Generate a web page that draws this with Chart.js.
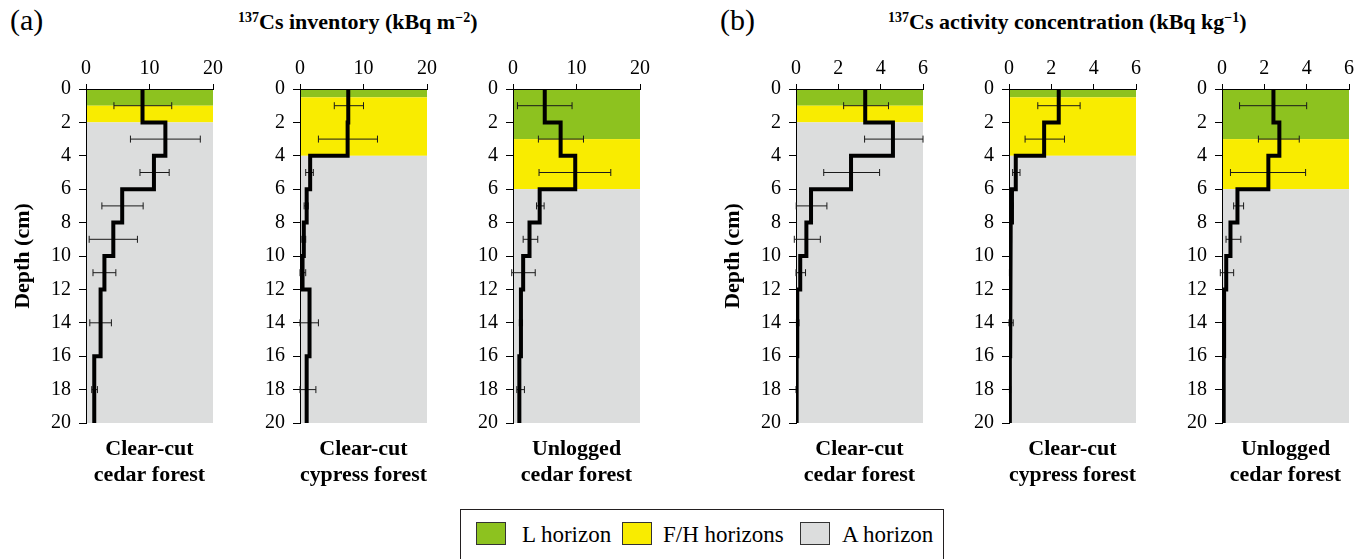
<!DOCTYPE html>
<html>
<head>
<meta charset="utf-8">
<script src="https://cdn.jsdelivr.net/npm/chart.js@4.4.1/dist/chart.umd.min.js"></script>
<style>
  body { margin: 0; background: #fff; width: 1368px; height: 559px; overflow: hidden; position: relative;
         font-family: 'Liberation Serif', 'Times New Roman', serif; color: #000; }
  canvas { position: absolute; top: 40px; }
  .txt { position: absolute; white-space: nowrap; line-height: 1; }
  .tag { font-size: 30px; top: 5px; }
  .group { font-size: 22px; font-weight: bold; top: 11px; }
  .group sup { font-size: 14px; vertical-align: 7px; line-height: 0; }
  #legendBox { position: absolute; left: 460px; top: 509px; width: 484px; height: 70px;
               border: 1.5px solid #231f20; box-sizing: border-box; }
  .swatch { position: absolute; top: 522px; width: 30px; height: 23px; border: 1.5px solid #333; box-sizing: border-box; }
  .legText { font-size: 23px; top: 523px; }
</style>
</head>
<body>
<div class="txt tag" style="left:10px">(a)</div>
<div class="txt group" style="left:238px"><sup>137</sup>Cs inventory (kBq m<sup>−2</sup>)</div>
<div class="txt tag" style="left:720px">(b)</div>
<div class="txt group" style="left:888px"><sup>137</sup>Cs activity concentration (kBq kg<sup>−1</sup>)</div>

<canvas id="panel0"></canvas>
<canvas id="panel1"></canvas>
<canvas id="panel2"></canvas>
<canvas id="panel3"></canvas>
<canvas id="panel4"></canvas>
<canvas id="panel5"></canvas>

<div id="legendBox"></div>

<script>
// depth intervals (cm) and their midpoints for the error bars
const depthTop    = [0, 2, 4, 6, 8, 10, 12, 16];
const depthBottom = [2, 4, 6, 8, 10, 12, 16, 20];
const depthMid    = [1, 3, 5, 7, 9, 11, 14, 18];

// (a) 137Cs inventory, kBq m-2
const invCutCedar     = [8.9, 12.5, 10.7, 5.7, 4.3, 2.9, 2.3, 1.3];
const invCutCedarLo   = [4.4, 7.0, 8.5, 2.5, 0.5, 1.1, 0.6, 0.9];
const invCutCedarHi   = [13.5, 18.0, 13.1, 9.0, 8.1, 4.7, 4.0, 1.8];

const invCutCypress   = [7.6, 7.5, 1.6, 1.05, 0.6, 0.4, 1.5, 1.05];
const invCutCypressLo = [5.4, 2.9, 0.9, 0.65, 0.3, 0.0, 0.0, 0.0];
const invCutCypressHi = [10.0, 12.2, 2.1, 1.3, 0.9, 0.9, 2.9, 2.5];

const invUnlogCedar   = [5.0, 7.5, 9.8, 4.2, 2.6, 1.6, 1.25, 1.0];
const invUnlogCedarLo = [0.7, 4.0, 4.1, 3.7, 1.6, -0.2, 1.0, 0.6];
const invUnlogCedarHi = [9.3, 11.1, 15.4, 4.9, 3.9, 3.5, 1.5, 1.8];

// (b) 137Cs activity concentration, kBq kg-1
const concCutCedar     = [3.27, 4.58, 2.6, 0.71, 0.49, 0.2, 0.06, 0.03];
const concCutCedarLo   = [2.25, 3.24, 1.31, 0.01, -0.08, 0.0, 0.02, 0.0];
const concCutCedarHi   = [4.37, 6.0, 3.95, 1.46, 1.15, 0.45, 0.14, 0.06];

const concCutCypress   = [2.35, 1.66, 0.32, 0.14, 0.08, 0.05, 0.05, 0.04];
const concCutCypressLo = [1.36, 0.76, 0.17, 0.08, 0.04, 0.02, 0.0, 0.02];
const concCutCypressHi = [3.36, 2.62, 0.52, 0.2, 0.12, 0.08, 0.2, 0.08];

const concUnlogCedar   = [2.43, 2.71, 2.19, 0.73, 0.4, 0.2, 0.1, 0.08];
const concUnlogCedarLo = [0.83, 1.72, 0.4, 0.55, 0.19, -0.08, 0.06, 0.05];
const concUnlogCedarHi = [4.0, 3.65, 3.95, 1.02, 0.89, 0.55, 0.14, 0.1];

// lower boundary (cm) of the L and F/H horizons, A horizon goes down to 20
const horizonCutCedar   = [1, 2];
const horizonCutCypress = [0.5, 4];
const horizonUnlogCedar = [3, 6];

const horizonLabels = ['L horizon', 'F/H horizons', 'A horizon'];
const horizonColors = ['#8dc21f', '#f9ec00', '#dcdddd'];

const siteCutCedar   = ['Clear-cut', 'cedar forest'];
const siteCutCypress = ['Clear-cut', 'cypress forest'];
const siteUnlogCedar = ['Unlogged', 'cedar forest'];

const invTicks  = { max: 20, step: 10 };
const concTicks = { max: 6, step: 2 };

// layout
const plotLeft = [86, 300, 513, 796, 1009, 1222];
const legendSwatchLeft = [476, 622, 800];
const legendTextLeft = [522, 663, 842];

const serif = "'Liberation Serif', 'Times New Roman', serif";
Chart.defaults.font.family = serif;
Chart.defaults.color = '#000';

const panels = [
  { v: invCutCedar, lo: invCutCedarLo, hi: invCutCedarHi, hz: horizonCutCedar, site: siteCutCedar, ticks: invTicks, depthTitle: true },
  { v: invCutCypress, lo: invCutCypressLo, hi: invCutCypressHi, hz: horizonCutCypress, site: siteCutCypress, ticks: invTicks },
  { v: invUnlogCedar, lo: invUnlogCedarLo, hi: invUnlogCedarHi, hz: horizonUnlogCedar, site: siteUnlogCedar, ticks: invTicks },
  { v: concCutCedar, lo: concCutCedarLo, hi: concCutCedarHi, hz: horizonCutCedar, site: siteCutCedar, ticks: concTicks, depthTitle: true },
  { v: concCutCypress, lo: concCutCypressLo, hi: concCutCypressHi, hz: horizonCutCypress, site: siteCutCypress, ticks: concTicks },
  { v: concUnlogCedar, lo: concUnlogCedarLo, hi: concUnlogCedarHi, hz: horizonUnlogCedar, site: siteUnlogCedar, ticks: concTicks }
];

// background bands for the soil horizons
function horizonBands(bounds) {
  return {
    id: 'horizonBands',
    beforeDraw(chart) {
      const { ctx, scales: { x, y } } = chart;
      const edges = [y.min, ...bounds, y.max];
      const left = x.getPixelForValue(x.min);
      const right = x.getPixelForValue(x.max);
      ctx.save();
      for (let k = 0; k < horizonColors.length; k++) {
        const top = y.getPixelForValue(edges[k]);
        const bottom = y.getPixelForValue(edges[k + 1]);
        ctx.fillStyle = horizonColors[k];
        ctx.fillRect(left, top, right - left, bottom - top);
      }
      ctx.restore();
    }
  };
}

panels.forEach((p, i) => {
  const canvas = document.getElementById('panel' + i);
  canvas.width = 229;
  canvas.height = 450;
  canvas.style.left = (plotLeft[i] - 86) + 'px';

  // step profile: each layer is a vertical segment at its value
  const profile = [];
  p.v.forEach((val, k) => {
    profile.push({ x: val, y: depthTop[k] }, { x: val, y: depthBottom[k] });
  });

  const errorBars = p.v.map((val, k) => ({
    data: [{ x: p.lo[k], y: depthMid[k] }, { x: p.hi[k], y: depthMid[k] }],
    showLine: true,
    borderColor: '#1a1a1a',
    borderWidth: 1,
    pointStyle: 'line',
    pointRotation: 90,
    pointRadius: 3.5,
    pointBorderWidth: 1,
    pointBorderColor: '#1a1a1a',
    clip: false
  }));

  new Chart(canvas, {
    type: 'scatter',
    data: {
      datasets: [{
        data: profile,
        showLine: true,
        borderColor: '#000',
        borderWidth: 4,
        borderJoinStyle: 'miter',
        pointRadius: 0
      }, ...errorBars]
    },
    options: {
      responsive: false,
      animation: false,
      events: [],
      layout: { padding: { right: 16 } },
      plugins: { legend: { display: false }, tooltip: { enabled: false } },
      scales: {
        x: {
          type: 'linear', position: 'top', min: 0, max: p.ticks.max,
          ticks: { stepSize: p.ticks.step, padding: 3, font: { family: serif, size: 20 } },
          grid: { drawOnChartArea: false, tickLength: 5, color: '#000' },
          border: { color: '#000', width: 1 },
          afterFit: s => { s.height = 49; }
        },
        xb: {
          type: 'linear', position: 'bottom',
          ticks: { display: false },
          grid: { display: false },
          border: { display: false },
          title: { display: true, text: p.site, font: { family: serif, size: 22, weight: 'bold', lineHeight: 1.2 }, padding: { top: 0, bottom: 1 } },
          afterFit: s => { s.height = 67; }
        },
        y: {
          type: 'linear', position: 'left', reverse: true, min: 0, max: 20,
          ticks: { stepSize: 2, padding: 8, font: { family: serif, size: 20 } },
          grid: { drawOnChartArea: false, tickLength: 7, color: '#000' },
          border: { color: '#000', width: 1 },
          title: { display: !!p.depthTitle, text: 'Depth (cm)', font: { family: serif, size: 22, weight: 'bold' }, padding: { top: 10, bottom: 0 } },
          afterFit: s => { s.width = 86; }
        }
      }
    },
    plugins: [horizonBands(p.hz)]
  });
});

// legend for the horizon colours
horizonLabels.forEach((label, k) => {
  const sw = document.createElement('div');
  sw.className = 'swatch';
  sw.style.left = legendSwatchLeft[k] + 'px';
  sw.style.background = horizonColors[k];
  document.body.appendChild(sw);
  const t = document.createElement('div');
  t.className = 'txt legText';
  t.style.left = legendTextLeft[k] + 'px';
  t.textContent = label;
  document.body.appendChild(t);
});
</script>
</body>
</html>
